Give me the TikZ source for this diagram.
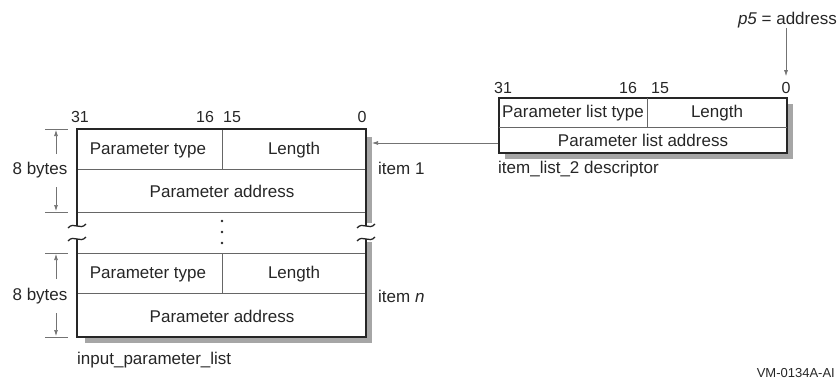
\documentclass[tikz,border=0pt]{standalone}
\usepackage{fontspec}
\setmainfont{Liberation Sans}
\usetikzlibrary{arrows.meta}
\begin{document}
\begin{tikzpicture}[x=1pt,y=-1pt,
  lbl/.style={font=\fontsize{17}{20}\selectfont, inner sep=0pt, text=black!85},
  num/.style={font=\fontsize{16}{19}\selectfont, inner sep=0pt, text=black!85},
  small/.style={font=\fontsize{13}{15}\selectfont, inner sep=0pt, text=black!85},
  border/.style={draw=black!85, line width=1.2pt},
  inner/.style={draw=black!60, line width=0.9pt},
  shadow/.style={fill=black!35, draw=none},
  dim/.style={draw=black!55, line width=0.7pt},
  tip/.style={-{Latex[length=6pt,width=4pt]}},
  brk/.style={draw=black!85, line width=1.3pt}]
\useasboundingbox (0,0) rectangle (840,385);
% shadows
\fill[shadow] (366,137) rectangle (372,223);
\fill[shadow] (366,242) rectangle (372,343);
\fill[shadow] (85,337) rectangle (372,343);
\fill[shadow] (787,104) rectangle (793,159);
\fill[shadow] (505,153) rectangle (793,159);
% left box
\draw[inner] (77,169) -- (366,169);
\draw[inner] (222,129) -- (222,169);
\draw[inner] (77,212) -- (366,212);
\draw[inner] (77,253) -- (366,253);
\draw[inner] (77,293) -- (366,293);
\draw[inner] (222,253) -- (222,293);
\draw[border] (77,226) -- (77,129) -- (366,129) -- (366,226);
\draw[border] (77,239) -- (77,337) -- (366,337) -- (366,239);
\foreach \x in {77,366} \foreach \y in {226,239}
  \draw[brk] (\x-9,\y+2) .. controls (\x-3,\y-5) and (\x+3,\y+5) .. (\x+9,\y-2);
\foreach \y in {221,232,243} \fill[black!85] (222,\y) circle[radius=1.4pt];
% right box
\node[border, minimum width=288pt, minimum height=55pt, inner sep=0pt] (desc) at (643,125.5) {};
\draw[inner] (499,127) -- (787,127);
\draw[inner] (647,98) -- (647,127);
% texts left
\node[lbl] (pt1) at (148,150) {Parameter type};
\node[lbl] (len1) at (294,150) {Length};
\node[lbl] (pa1) at (222,191) {Parameter address};
\node[lbl] (pt2) at (148,274) {Parameter type};
\node[lbl] (len2) at (294,274) {Length};
\node[lbl] (pa2) at (222,316) {Parameter address};
\node[num] (l31) at (80,117) {31};
\node[num] (l16) at (205,117) {16};
\node[num] (l15) at (232,117) {15};
\node[num] (l0) at (362,117) {0};
% texts right
\node[lbl] (plt) at (573,113) {Parameter list type};
\node[lbl] (plen) at (717,113) {Length};
\node[lbl] (pla) at (643,140) {Parameter list address};
\node[num] (r31) at (503,88) {31};
\node[num] (r16) at (628,88) {16};
\node[num] (r15) at (660,88) {15};
\node[num] (r0) at (786,88) {0};
% labels
\node[lbl] (item1) [anchor=west] at (378,168) {item 1};
\node[lbl] (itemn) [anchor=west] at (378,296) {item \textit{n}};
\node[lbl] (ipl) [anchor=west] at (77,360) {input\_parameter\_list};
\node[lbl] (ild) [anchor=west] at (498,169) {item\_list\_2 descriptor};
\node[lbl] (p5) [anchor=east] at (837,20) {\textit{p5} = address};
\node[small] (vm) [anchor=east] at (835,373) {VM-0134A-AI};
% byte dimension marks
\node[lbl] (by1) at (40,170) {8 bytes};
\node[lbl] (by2) at (40,296) {8 bytes};
\draw[dim] (45,129) -- (68,129);
\draw[dim] (45,212) -- (68,212);
\draw[dim] (45,253) -- (68,253);
\draw[dim] (45,337) -- (68,337);
\coordinate (a1t) at (56,130); \coordinate (a1b) at (56,211);
\coordinate (a2t) at (56,254); \coordinate (a2b) at (56,336);
\draw[dim,tip] (56,154) -- (a1t);
\draw[dim,tip] (56,187) -- (a1b);
\draw[dim,tip] (56,279) -- (a2t);
\draw[dim,tip] (56,313) -- (a2b);
% connectors
\coordinate (cend) at (372,143);
\draw[dim,tip] (desc.west |- cend) -- (cend);
\draw[dim,tip] (786,28) -- ([yshift=6pt]r0.north);
\end{tikzpicture}
\end{document}
